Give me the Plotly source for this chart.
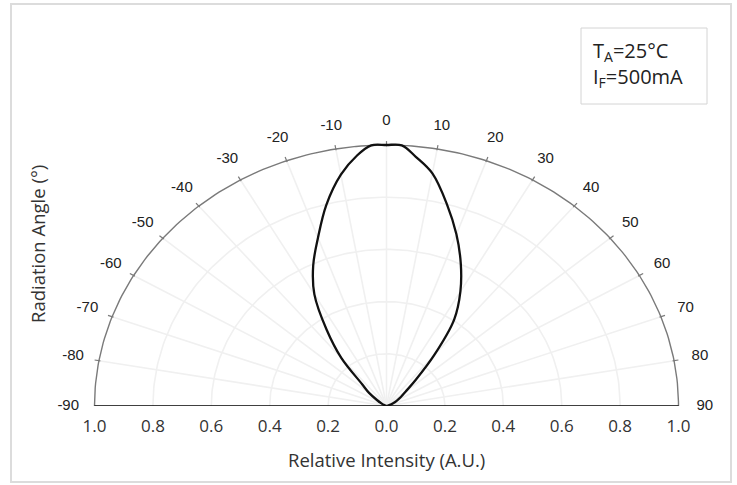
import numpy as np
import plotly.graph_objects as go

# ---- data ----
angles_deg = [-90, -80, -70, -65, -60, -55, -50, -45, -40, -35, -30, -25, -20, -15, -10, -6, -3,
              0, 3, 6, 10, 15, 20, 25, 30, 35, 40, 45, 50, 55, 60, 65, 70, 80, 90]
rel_intensity = [0.0, 0.0, 0.0, 0.008, 0.02, 0.04, 0.078, 0.118, 0.241, 0.358, 0.494, 0.594, 0.686, 0.797, 0.90, 0.965, 1.0,
                 1.0, 1.0, 0.96, 0.905, 0.80, 0.70, 0.602, 0.506, 0.404, 0.254, 0.142, 0.085, 0.06, 0.04, 0.025, 0.01, 0.0, 0.0]

angle_tick_vals = [-90, -80, -70, -60, -50, -40, -30, -20, -10, 0, 10, 20, 30, 40, 50, 60, 70, 80, 90]
angle_tick_text = ["-90", "-80", "-70", "-60", "-50", "-40", "-30", "-20", "-10", "0",
                   "10", "20", "30", "40", "50", "60", "70", "80", "90"]
intensity_tick_vals = [-1.0, -0.8, -0.6, -0.4, -0.2, 0.0, 0.2, 0.4, 0.6, 0.8, 1.0]
intensity_tick_text = ["1.0", "0.8", "0.6", "0.4", "0.2", "0.0", "0.2", "0.4", "0.6", "0.8", "1.0"]
grid_radii = [0.2, 0.4, 0.6, 0.8]
grid_angles = [-80, -70, -60, -50, -40, -30, -20, -10, 0, 10, 20, 30, 40, 50, 60, 70, 80]


def to_xy(r, deg):
    t = np.radians(np.asarray(deg, dtype=float))
    r = np.asarray(r, dtype=float)
    return r * np.sin(t), r * np.cos(t)


fig = go.Figure()

GRID = "#f0f0f0"
# grid arcs
phi = np.linspace(-90, 90, 181)
for rr in grid_radii:
    gx, gy = to_xy(np.full_like(phi, rr), phi)
    fig.add_trace(go.Scatter(x=gx, y=gy, mode="lines", line=dict(color=GRID, width=1.6),
                             hoverinfo="skip", showlegend=False))
# grid spokes
for a in grid_angles:
    sx, sy = to_xy([0, 1], [a, a])
    fig.add_trace(go.Scatter(x=sx, y=sy, mode="lines", line=dict(color=GRID, width=1.6),
                             hoverinfo="skip", showlegend=False))

# outer arc
ox, oy = to_xy(np.ones_like(phi), phi)
fig.add_trace(go.Scatter(x=ox, y=oy, mode="lines", line=dict(color="#7a7a7a", width=1.4),
                         hoverinfo="skip", showlegend=False))
# tick marks on arc
for a in angle_tick_vals[1:-1]:
    tx, ty = to_xy([0.995, 1.015], [a, a])
    fig.add_trace(go.Scatter(x=tx, y=ty, mode="lines", line=dict(color="#7a7a7a", width=1.2),
                             hoverinfo="skip", showlegend=False))

# baseline
fig.add_trace(go.Scatter(x=[-1, 1], y=[0, 0], mode="lines", line=dict(color="#000000", width=1.6),
                         hoverinfo="skip", showlegend=False))

# radiation pattern
cx, cy = to_xy(rel_intensity, angles_deg)
fig.add_trace(go.Scatter(x=cx, y=cy, mode="lines", line=dict(color="#111111", width=2.3),
                         line_shape="spline", hoverinfo="skip", showlegend=False))

# angle labels
lx, ly = to_xy(np.full(len(angle_tick_vals), 1.09), angle_tick_vals)
fig.add_trace(go.Scatter(x=lx, y=ly, mode="text", text=angle_tick_text, textposition="middle center",
                         textfont=dict(family="Liberation Sans, Arial, sans-serif", size=15, color="#222222"),
                         cliponaxis=False, hoverinfo="skip", showlegend=False))

# ---- layout ----
L, R, T, B = 42, 6, 10, 79
W, H = 737, 485
pw, ph = W - L - R, H - T - B
xr = pw / 292 / 2
yr = ph / 261


def px(xp):
    return (xp - L) / pw


def py(yp):
    return (H - B - yp) / ph


FONT = "'Open Sans', 'Noto Sans', sans-serif"
fig.update_layout(
    width=W, height=H, autosize=False,
    margin=dict(l=L, r=R, t=T, b=B, autoexpand=False),
    paper_bgcolor="white", plot_bgcolor="white",
    xaxis=dict(range=[-xr, xr], tickvals=intensity_tick_vals, ticktext=intensity_tick_text,
               showgrid=False, zeroline=False, showline=False, ticks="outside", ticklen=5,
               tickcolor="rgba(0,0,0,0)", tickfont=dict(family=FONT, size=17, color="#333333"),
               fixedrange=True),
    yaxis=dict(range=[0, yr], visible=False, fixedrange=True),
    shapes=[
        dict(type="rect", xref="paper", yref="paper", x0=px(11), x1=px(731), y0=py(4), y1=py(482),
             line=dict(color="#dcdcdc", width=2), fillcolor="rgba(0,0,0,0)", layer="below"),
        dict(type="rect", xref="paper", yref="paper", x0=px(581), x1=px(707), y0=py(28), y1=py(104),
             line=dict(color="#d4d4d4", width=1), fillcolor="white"),
    ],
    annotations=[
        dict(text="Relative Intensity (A.U.)", xref="paper", yref="paper", x=px(386.5), y=py(460),
             xanchor="center", yanchor="middle", showarrow=False,
             font=dict(family=FONT, size=18.5, color="#333333")),
        dict(text="Radiation Angle (°)", xref="paper", yref="paper", x=px(38), y=py(244),
             xanchor="center", yanchor="middle", showarrow=False, textangle=-90,
             font=dict(family=FONT, size=18.5, color="#333333")),
        dict(text="T<sub>A</sub>=25°C<br>I<sub>F</sub>=500mA", xref="paper", yref="paper",
             x=px(591), y=py(65), xanchor="left", yanchor="middle", align="left", showarrow=False,
             font=dict(family=FONT, size=20, color="#222222")),
    ],
)

fig.write_html("out.html", config={"displayModeBar": False},
               post_script="document.body.style.margin='0';")
